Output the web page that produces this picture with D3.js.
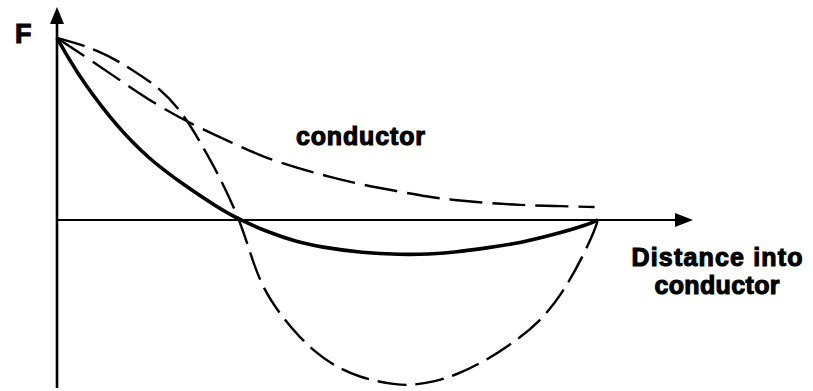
<!DOCTYPE html>
<html>
<head>
<meta charset="utf-8">
<script src="https://cdn.jsdelivr.net/npm/d3@7"></script>
<style>
  body { margin: 0; background: #fff; }
  svg { display: block; }
  .lbl { font-family: "Liberation Sans", Arial, sans-serif; font-weight: bold; fill: #000; stroke: #000; stroke-width: 1.1px; }
</style>
</head>
<body>
<script>
// distance into conductor (0 = surface, 1 = far side), F relative to surface value
var netDist  = [0, 0.024, 0.048, 0.111, 0.172, 0.233, 0.296, 0.338, 0.394, 0.444, 0.486, 0.566, 0.634, 0.689, 0.732, 0.795, 0.856, 0.917, 0.980, 1.0];
var netForce = [1, 0.875, 0.760, 0.511, 0.330, 0.196, 0.071, 0, -0.071, -0.121, -0.148, -0.181, -0.190, -0.188, -0.178, -0.154, -0.126, -0.082, -0.027, 0];

var envDist  = [0, 0.067, 0.129, 0.190, 0.264, 0.320, 0.381, 0.444, 0.505, 0.566, 0.628, 0.689, 0.732, 0.795, 0.856, 0.917, 0.994];
var envForce = [1, 0.868, 0.742, 0.621, 0.505, 0.429, 0.346, 0.286, 0.236, 0.192, 0.159, 0.126, 0.110, 0.093, 0.082, 0.077, 0.071];

var oscDist  = [0, 0.079, 0.140, 0.190, 0.233, 0.270, 0.301, 0.338, 0.357, 0.381, 0.425, 0.449, 0.473, 0.510, 0.560, 0.628, 0.658, 0.695, 0.739, 0.795, 0.843, 0.893, 0.935, 0.972, 0.996, 1.0];
var oscForce = [1, 0.934, 0.824, 0.725, 0.588, 0.401, 0.236, 0, -0.181, -0.385, -0.566, -0.643, -0.714, -0.797, -0.868, -0.907, -0.907, -0.890, -0.852, -0.769, -0.676, -0.560, -0.401, -0.203, -0.044, 0];

var yLabel = "F";
var xLabel = ["Distance into", "conductor"];
var curveLabel = "conductor";

var W = 813, H = 391;

var x = d3.scaleLinear().domain([0, 1.176]).range([57, 693]);
var y = d3.scaleLinear().domain([-0.923, 1.170]).range([388, 7]);

var svg = d3.select("body").append("svg")
    .attr("width", W)
    .attr("height", H);

function pairs(xs, ys) {
  return xs.map(function(d, i) { return [d, ys[i]]; });
}

var line = d3.line()
    .x(function(d) { return x(d[0]); })
    .y(function(d) { return y(d[1]); })
    .curve(d3.curveBasis);

// axes
svg.append("line")
    .attr("x1", x(0)).attr("x2", x(0))
    .attr("y1", y(y.domain()[0])).attr("y2", y(y.domain()[1]) + 12)
    .attr("stroke", "#000").attr("stroke-width", 2.6);

svg.append("line")
    .attr("x1", x(0)).attr("x2", x(x.domain()[1]) - 12)
    .attr("y1", y(0)).attr("y2", y(0))
    .attr("stroke", "#000").attr("stroke-width", 2.2);

// arrow heads
var tx = x(0), ty = y(y.domain()[1]);
svg.append("path")
    .attr("d", "M" + tx + "," + ty + "L" + (tx - 7) + "," + (ty + 17) + "L" + (tx + 7) + "," + (ty + 17) + "Z")
    .attr("fill", "#000");

var ax = x(x.domain()[1]), ay = y(0);
svg.append("path")
    .attr("d", "M" + ax + "," + ay + "L" + (ax - 18) + "," + (ay - 7) + "L" + (ax - 18) + "," + (ay + 7) + "Z")
    .attr("fill", "#000");

// curves
svg.append("path")
    .datum(pairs(envDist, envForce))
    .attr("d", line)
    .attr("fill", "none")
    .attr("stroke", "#000")
    .attr("stroke-width", 2.4)
    .attr("stroke-dasharray", "33,10");

svg.append("path")
    .datum(pairs(oscDist, oscForce))
    .attr("d", line)
    .attr("fill", "none")
    .attr("stroke", "#000")
    .attr("stroke-width", 2.4)
    .attr("stroke-dasharray", "29,9");

svg.append("path")
    .datum(pairs(netDist, netForce))
    .attr("d", line)
    .attr("fill", "none")
    .attr("stroke", "#000")
    .attr("stroke-width", 3.6)
    .attr("stroke-linejoin", "round");

// labels
svg.append("text")
    .attr("class", "lbl")
    .attr("x", 15).attr("y", 43)
    .style("font-size", "27px")
    .text(yLabel);

svg.append("text")
    .attr("class", "lbl")
    .attr("x", 296).attr("y", 145)
    .attr("textLength", 129)
    .style("font-size", "25px")
    .text(curveLabel);

svg.selectAll("text.xl")
    .data(xLabel)
  .enter().append("text")
    .attr("class", "lbl xl")
    .attr("text-anchor", "middle")
    .attr("x", 717)
    .attr("y", function(d, i) { return 266 + i * 28; })
    .attr("textLength", function(d, i) { return i === 0 ? 171 : 125; })
    .style("font-size", "25px")
    .text(function(d) { return d; });
</script>
</body>
</html>
